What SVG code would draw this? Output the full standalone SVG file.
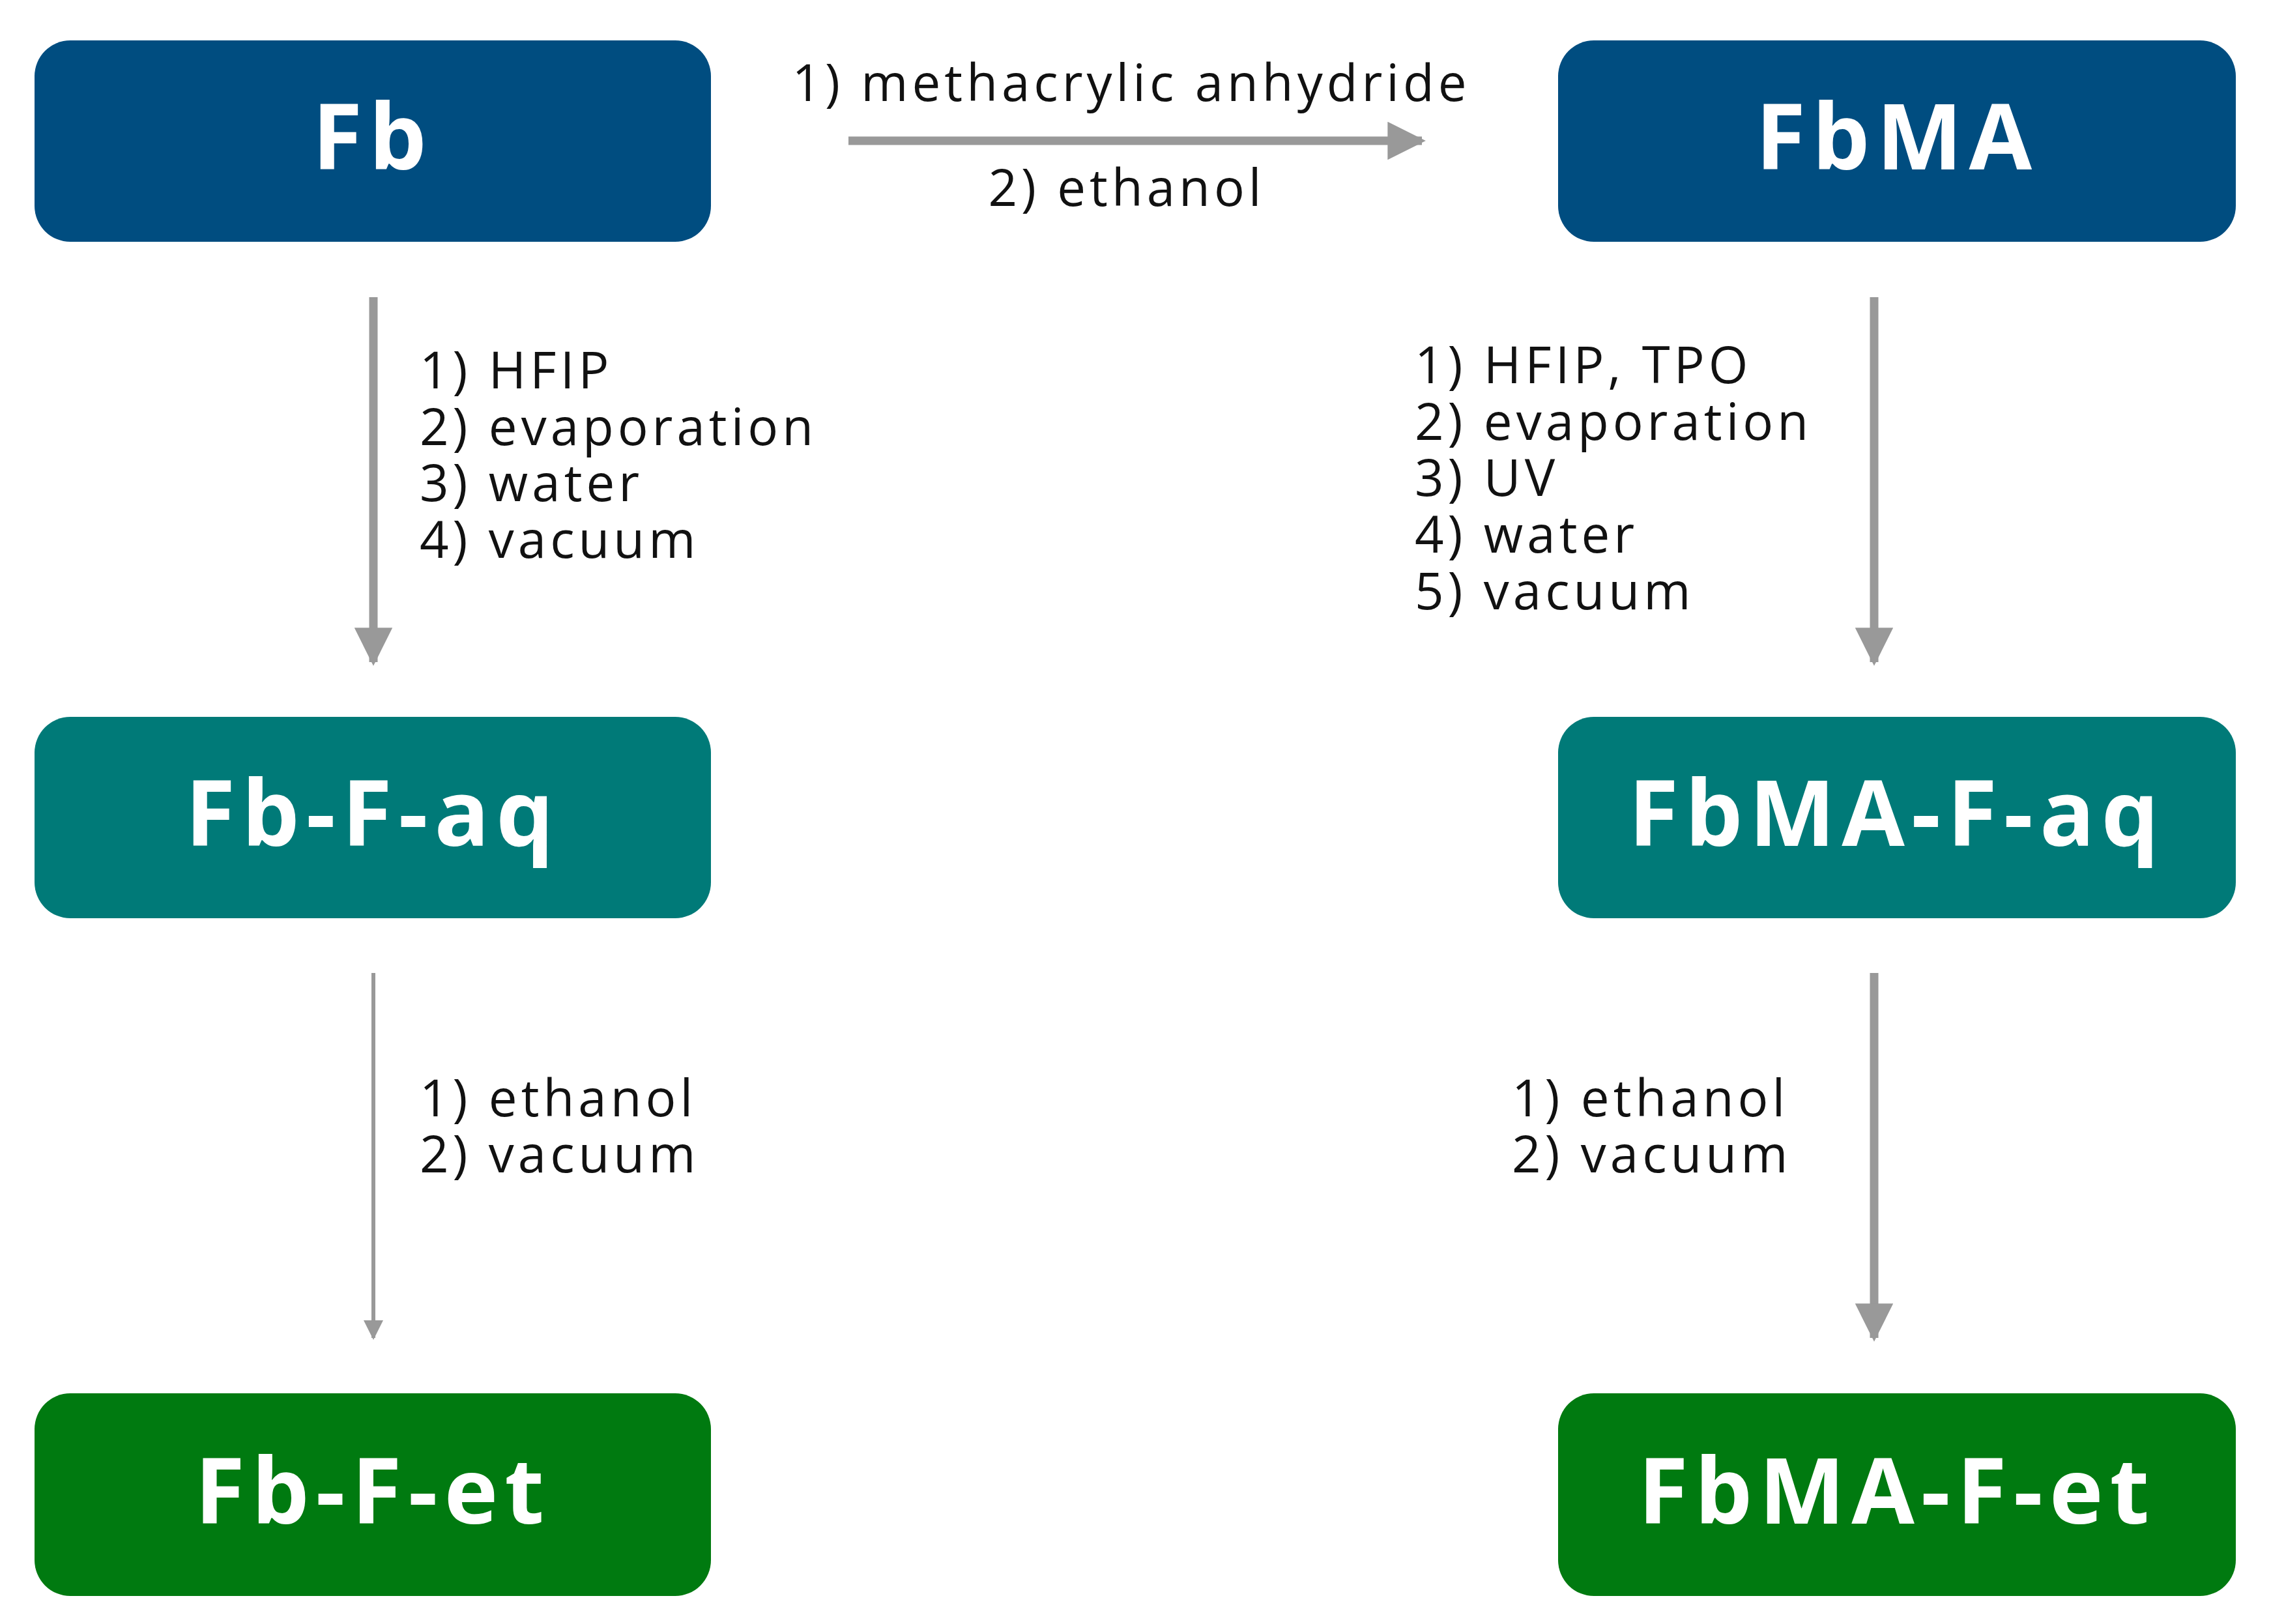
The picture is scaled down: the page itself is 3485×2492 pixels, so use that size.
<svg xmlns="http://www.w3.org/2000/svg" width="3485" height="2492" viewBox="0 0 3485 2492">
<style>
.box{stroke:none}
.t{font-family:"Open Sans","Liberation Sans",sans-serif;font-weight:bold;font-size:140px;letter-spacing:10px;fill:#fff;text-anchor:middle;dominant-baseline:central}
.l{font-family:"Open Sans","Liberation Sans",sans-serif;font-size:78px;letter-spacing:6px;fill:#111}
.c{stroke:#999;fill:none}
</style>
<defs>
<marker id="a" viewBox="0 0 10 10" refX="9" refY="5" markerWidth="4.5" markerHeight="4.5" orient="auto" markerUnits="strokeWidth"><path d="M0,0L10,5L0,10z" fill="#999"/></marker>
<marker id="s" viewBox="0 0 10 10" refX="9" refY="5" markerWidth="5" markerHeight="5" orient="auto" markerUnits="strokeWidth"><path d="M0,0L10,5L0,10z" fill="#999"/></marker>
</defs>
<rect width="3485" height="2492" fill="#fff"/>
<g id="Fb"><rect class="box" x="53" y="62" width="1038" height="309" rx="55" fill="#004d80"/><text class="t" x="572" y="205">Fb</text></g>
<g id="FbMA"><rect class="box" x="2391" y="62" width="1040" height="309" rx="55" fill="#004d80"/><text class="t" x="2911" y="205">FbMA</text></g>
<g id="Fb-F-aq"><rect class="box" x="53" y="1100" width="1038" height="309" rx="55" fill="#007a78"/><text class="t" x="572" y="1243">Fb-F-aq</text></g>
<g id="FbMA-F-aq"><rect class="box" x="2391" y="1100" width="1040" height="309" rx="55" fill="#007a78"/><text class="t" x="2911" y="1243">FbMA-F-aq</text></g>
<g id="Fb-F-et"><rect class="box" x="53" y="2138" width="1038" height="311" rx="55" fill="#007a10"/><text class="t" x="572" y="2283">Fb-F-et</text></g>
<g id="FbMA-F-et"><rect class="box" x="2391" y="2138" width="1040" height="311" rx="55" fill="#007a10"/><text class="t" x="2911" y="2283">FbMA-F-et</text></g>
<g id="connectors">
<line class="c" x1="1302" y1="216" x2="2182" y2="216" stroke-width="13" marker-end="url(#a)"/>
<line class="c" x1="573" y1="456" x2="573" y2="1016" stroke-width="13" marker-end="url(#a)"/>
<line class="c" x1="2876" y1="456" x2="2876" y2="1016" stroke-width="13" marker-end="url(#a)"/>
<line class="c" x1="573" y1="1493" x2="573" y2="2053" stroke-width="6" marker-end="url(#s)"/>
<line class="c" x1="2876" y1="1493" x2="2876" y2="2053" stroke-width="13" marker-end="url(#a)"/>
</g>
<g id="labels">
<text class="l" x="1736" y="155" text-anchor="middle">1) methacrylic anhydride</text>
<text class="l" x="1729" y="316" text-anchor="middle">2) ethanol</text>
<text class="l" x="644" y="596">1) HFIP</text>
<text class="l" x="644" y="683">2) evaporation</text>
<text class="l" x="644" y="769">3) water</text>
<text class="l" x="644" y="856">4) vacuum</text>
<text class="l" x="2171" y="588">1) HFIP, TPO</text>
<text class="l" x="2171" y="675">2) evaporation</text>
<text class="l" x="2171" y="761">3) UV</text>
<text class="l" x="2171" y="848">4) water</text>
<text class="l" x="2171" y="935">5) vacuum</text>
<text class="l" x="644" y="1713">1) ethanol</text>
<text class="l" x="644" y="1799">2) vacuum</text>
<text class="l" x="2320" y="1713">1) ethanol</text>
<text class="l" x="2320" y="1799">2) vacuum</text>
</g>
</svg>
